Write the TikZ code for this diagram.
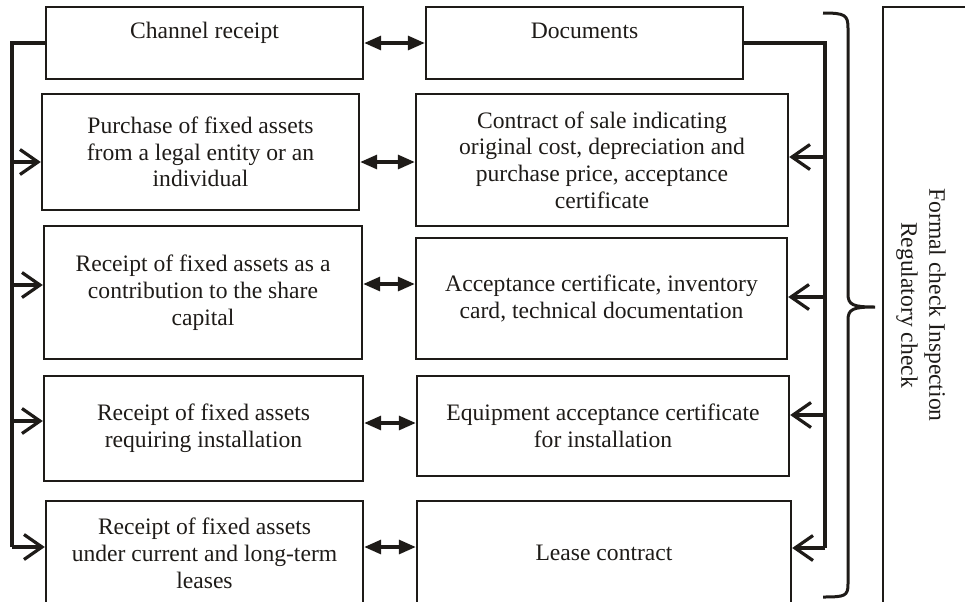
\documentclass[tikz,border=0pt]{standalone}
\usepackage{fontspec}
\setmainfont{Liberation Serif}
\usetikzlibrary{arrows.meta}
\definecolor{ink}{RGB}{30,27,24}

\begin{document}
\begin{tikzpicture}[
    x=0.5pt, y=-0.5pt,
    box/.style={rectangle, draw=ink, line width=1.2pt, align=center, text=ink,
        font=\fontsize{11.8}{13.4}\selectfont, inner sep=2pt},
    headbox/.style={box, minimum width=158.5pt, minimum height=36pt, text depth=12.5pt},
    bus/.style={draw=ink, line width=1.6pt},
    feed/.style={bus, -{Straight Barb[length=9pt,width=12.5pt,line width=1.6pt]}},
    twoway/.style={bus, {Triangle[length=8.5pt,width=7pt]}-{Triangle[length=8.5pt,width=7pt]}}
]
    \useasboundingbox (0,0) rectangle (965,601);

    \node[headbox] (L0) at (204.5,43) {Channel receipt};
    \node[box, minimum width=158.5pt, minimum height=58pt] (L1) at (200.5,152)
        {Purchase of fixed assets\\from a legal entity or an\\individual};
    \node[box, minimum width=159pt, minimum height=66.5pt] (L2) at (203,292.5)
        {Receipt of fixed assets as a\\contribution to the share\\capital};
    \node[box, minimum width=159.5pt, minimum height=52.5pt] (L3) at (203.5,428.5)
        {Receipt of fixed assets\\requiring installation};
    \node[box, minimum width=158.5pt, minimum height=52pt] (L4) at (204.5,553)
        {Receipt of fixed assets\\under current and long-term\\leases};

    \node[headbox] (R0) at (584.5,43) {Documents};
    \node[box, minimum width=186pt, minimum height=66pt] (R1) at (602,160)
        {Contract of sale indicating\\original cost, depreciation and\\purchase price, acceptance\\certificate};
    \node[box, minimum width=185.5pt, minimum height=60.5pt] (R2) at (601.5,298.5)
        {Acceptance certificate, inventory\\card, technical documentation};
    \node[box, minimum width=186pt, minimum height=50pt] (R3) at (603,426)
        {Equipment acceptance certificate\\for installation};
    \node[box, minimum width=187pt, minimum height=52pt] (R4) at (604,553)
        {Lease contract};

    \node[rectangle, draw=ink, line width=0.8pt, minimum width=47pt, minimum height=300pt]
        (chk) at (930,307) {};
    \node[rotate=-90, align=center, text=ink, font=\fontsize{11.8}{14}\selectfont]
        (chktext) at (921,305) {Formal check Inspection\\Regulatory check};

    \coordinate (lbus) at (12,43);
    \coordinate (rbus) at (825,43);

    \foreach \n/\s in {L1/-5pt, L2/3.75pt, L3/3.75pt, L4/3pt}
        \coordinate (\n-in) at ([yshift=\s]\n.west);
    \foreach \n/\s in {R1/1.5pt, R2/0.75pt, R3/5.5pt, R4/2.5pt}
        \coordinate (\n-in) at ([yshift=\s]\n.east);

    \draw[bus] (L0.west) -- (lbus) -- (lbus |- L4-in);
    \foreach \n in {L1,L2,L3,L4}
        \draw[feed] (lbus |- \n-in) -- (\n-in);

    \draw[bus] (R0.east) -- (rbus) -- (rbus |- R4-in);
    \foreach \n in {R1,R2,R3,R4}
        \draw[feed] (rbus |- \n-in) -- (\n-in);

    \foreach \i/\s in {0/0pt, 1/-5pt, 2/4.25pt, 3/2.75pt, 4/3pt}
        \draw[twoway] ([yshift=\s]L\i.east) -- ([yshift=\s]L\i.east -| R\i.west);

    \draw[ink, line width=1.5pt] (823,13) .. controls (845,13) and (848,15) .. (848,28)
        -- (848,294) .. controls (848,305) and (853,307) .. (875,307)
        .. controls (853,307) and (848,309) .. (848,320)
        -- (848,584) .. controls (848,596) and (845,597) .. (823,597);
\end{tikzpicture}
\end{document}
